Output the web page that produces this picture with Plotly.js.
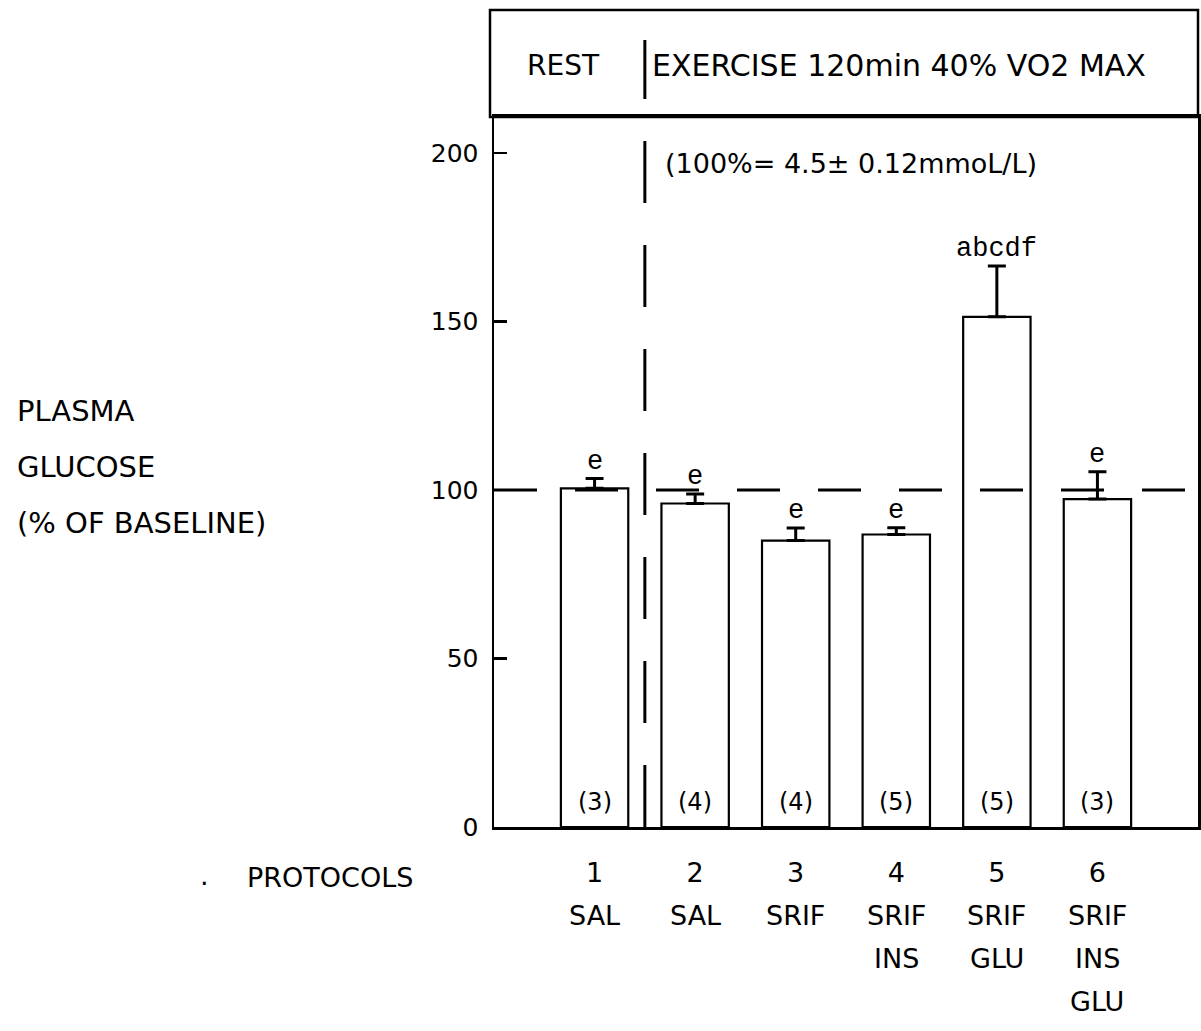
<!DOCTYPE html>
<html>
<head>
<meta charset="utf-8">
<script src="https://cdn.plot.ly/plotly-3.0.1.min.js"></script>
<style>
  html, body { margin: 0; padding: 0; background: #ffffff; }
  #chart { width: 1201px; height: 1031px; }
</style>
</head>
<body>
<div id="chart"></div>
<script>
// ---- data ----
const protocols = ['1', '2', '3', '4', '5', '6'];
const treatments = [['SAL'], ['SAL'], ['SRIF'], ['SRIF', 'INS'], ['SRIF', 'GLU'], ['SRIF', 'INS', 'GLU']];
const glucosePct = [100.5, 96, 85, 86.8, 151.4, 97.3];
const glucoseSem = [2.9, 2.8, 3.7, 2.0, 15.1, 8.1];
const nAnimals = ['(3)', '(4)', '(4)', '(5)', '(5)', '(3)'];
const sigLetters = ['e', 'e', 'e', 'e', 'abcdf', 'e'];
const yTicks = [0, 50, 100, 150, 200];
const phaseLabels = ['REST', 'EXERCISE 120min 40% VO2 MAX'];
const baselineNote = '(100%= 4.5\u00b1 0.12mmoL/L)';
const baselineValue = 100;
const phaseBoundary = 1.5;
const yTitleLines = ['PLASMA', 'GLUCOSE', '(% OF BASELINE)'];
const xTitle = 'PROTOCOLS';

// ---- layout geometry ----
const W = 1201, H = 1031;
const mL = 494, mR = 3, mT = 117, mB = 204;
const plotW = W - mL - mR, plotH = H - mT - mB;
const px2paperX = px => (px - mL) / plotW;
const px2paperY = py => (H - mB - py) / plotH;

const xPos = protocols.map(Number);
const FONT = 'DejaVu Sans, Liberation Sans, Arial, sans-serif';
const MONO = 'Liberation Mono, DejaVu Sans Mono, monospace';

const trace = {
  type: 'bar',
  x: xPos,
  y: glucosePct,
  width: 0.67,
  marker: { color: '#ffffff', line: { color: '#000000', width: 2.2 } },
  error_y: {
    type: 'data', symmetric: false, array: glucoseSem,
    arrayminus: glucoseSem.map(() => 0),
    color: '#000000', thickness: 3, width: 9
  },
  hoverinfo: 'skip'
};

const annotations = [];
xPos.forEach((x, i) => {
  // significance letters above error bars
  annotations.push({
    x: x, y: glucosePct[i] + glucoseSem[i], xref: 'x', yref: 'y',
    text: sigLetters[i], showarrow: false, yanchor: 'bottom', yshift: 0,
    font: { family: MONO, size: 27, color: '#000' }
  });
  // group sizes inside bars
  annotations.push({
    x: x, y: 0, xref: 'x', yref: 'y',
    text: nAnimals[i], showarrow: false, yanchor: 'bottom', yshift: 9,
    font: { family: FONT, size: 24, color: '#000' }
  });
  // treatment lines below protocol numbers
  treatments[i].forEach((t, k) => {
    annotations.push({
      x: x, y: px2paperY(915 + 43 * k), xref: 'x', yref: 'paper',
      text: t, showarrow: false, yanchor: 'middle',
      font: { family: FONT, size: 27, color: '#000' }
    });
  });
});
// header texts
annotations.push({
  x: px2paperX(563), y: px2paperY(65), xref: 'paper', yref: 'paper',
  text: phaseLabels[0], showarrow: false, xanchor: 'center', yanchor: 'middle',
  font: { family: FONT, size: 28, color: '#000' }
});
annotations.push({
  x: px2paperX(650), y: px2paperY(65), xref: 'paper', yref: 'paper',
  text: phaseLabels[1], showarrow: false, xanchor: 'left', yanchor: 'middle',
  font: { family: FONT, size: 30, color: '#000' }
});
annotations.push({
  x: px2paperX(663), y: px2paperY(163), xref: 'paper', yref: 'paper',
  text: baselineNote, showarrow: false, xanchor: 'left', yanchor: 'middle',
  font: { family: FONT, size: 27, color: '#000' }
});
// y title lines
yTitleLines.forEach((t, k) => {
  annotations.push({
    x: px2paperX(15), y: px2paperY(411 + 56 * k), xref: 'paper', yref: 'paper',
    text: t, showarrow: false, xanchor: 'left', yanchor: 'middle',
    font: { family: FONT, size: 29, color: '#000' }
  });
});
// x title
annotations.push({
  x: px2paperX(245), y: px2paperY(878), xref: 'paper', yref: 'paper',
  text: xTitle, showarrow: false, xanchor: 'left', yanchor: 'middle',
  font: { family: FONT, size: 27, color: '#000' }
});
annotations.push({
  x: px2paperX(204), y: px2paperY(876), xref: 'paper', yref: 'paper',
  text: '.', showarrow: false, xanchor: 'center', yanchor: 'middle',
  font: { family: FONT, size: 27, color: '#000' }
});

const shapes = [
  // header box
  { type: 'rect', xref: 'paper', yref: 'paper', x0: px2paperX(490), x1: 1, y0: 1, y1: px2paperY(10),
    line: { color: '#000', width: 2.5 }, fillcolor: 'rgba(0,0,0,0)' },
  // baseline reference (100%)
  { type: 'line', xref: 'paper', yref: 'y', x0: 0, x1: 1, y0: baselineValue, y1: baselineValue,
    line: { color: '#000', width: 3, dash: '43px,38px' } },
  // rest / exercise boundary
  { type: 'line', xref: 'x', yref: 'paper', x0: phaseBoundary, x1: phaseBoundary, y0: 0, y1: px2paperY(40),
    line: { color: '#000', width: 3, dash: '62px,42px' } }
];

const layout = {
  width: W, height: H,
  margin: { l: mL, r: mR, t: mT, b: mB, pad: 0 },
  paper_bgcolor: '#ffffff', plot_bgcolor: '#ffffff',
  showlegend: false,
  xaxis: {
    type: 'linear', range: [0, 7], tickvals: xPos, ticktext: protocols,
    showgrid: false, zeroline: false, showline: true, linecolor: '#000', linewidth: 3,
    mirror: true, ticks: '', ticklabelstandoff: 20,
    tickfont: { family: FONT, size: 27, color: '#000' }, fixedrange: true
  },
  yaxis: {
    range: [0, (H - mB - mT) / 3.37], tickvals: yTicks, ticktext: yTicks.map(String),
    showgrid: false, zeroline: false, showline: true, linecolor: '#000', linewidth: 2.5,
    mirror: true, ticks: 'inside', ticklen: 13, tickwidth: 2.5, tickcolor: '#000',
    ticklabelstandoff: 8,
    tickfont: { family: FONT, size: 25, color: '#000' }, fixedrange: true
  },
  annotations: annotations,
  shapes: shapes
};

Plotly.newPlot('chart', [trace], layout, { displayModeBar: false, staticPlot: true });
</script>
</body>
</html>
